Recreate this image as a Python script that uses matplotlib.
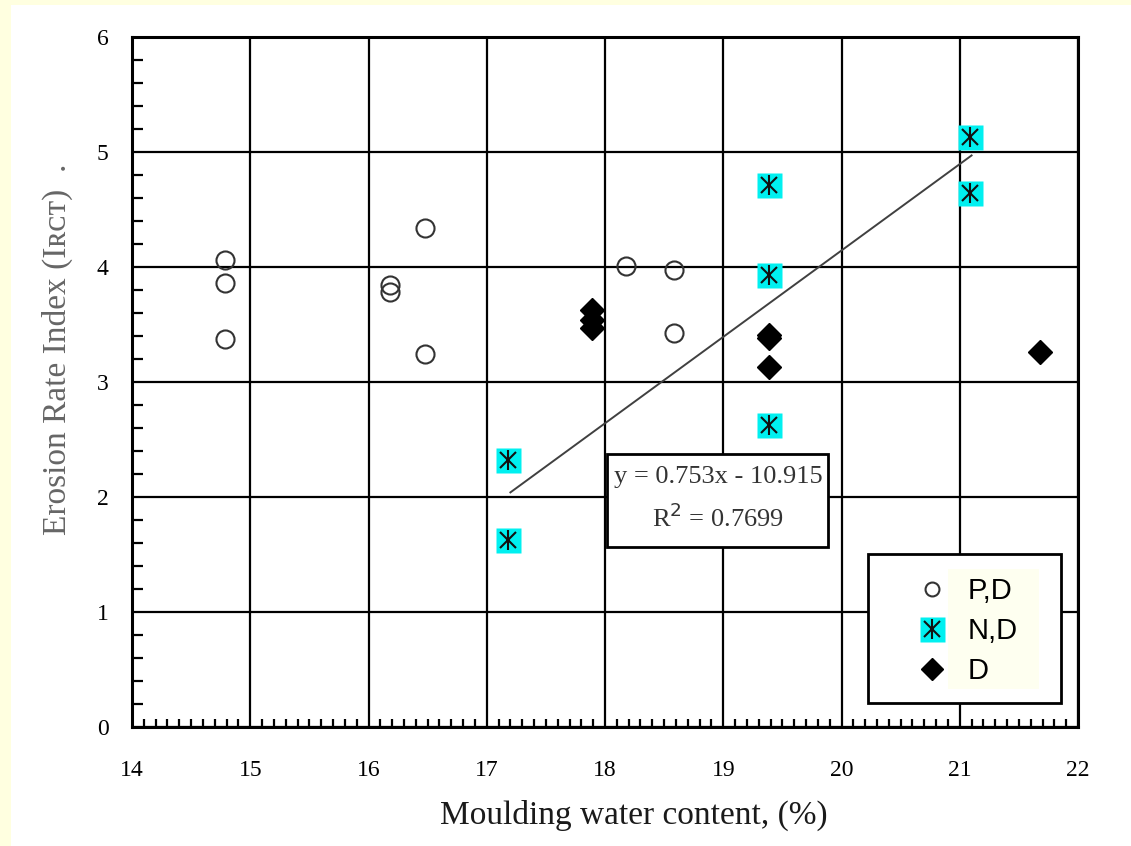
import matplotlib
matplotlib.use("Agg")
import matplotlib.pyplot as plt
from matplotlib.patches import Rectangle
from matplotlib.lines import Line2D
from matplotlib.legend_handler import HandlerTuple

# ---------------- data ----------------
pd_x = [14.79, 14.79, 14.79, 16.18, 16.18, 16.48, 16.48, 18.18, 18.58, 18.58]
pd_y = [4.06, 3.86, 3.37, 3.84, 3.78, 4.34, 3.24, 4.01, 3.97, 3.43]

nd_x = [17.18, 17.18, 19.39, 19.39, 19.39, 21.09, 21.09]
nd_y = [2.32, 1.63, 4.71, 3.93, 2.63, 5.13, 4.64]

d_x = [17.89, 17.89, 17.89, 19.39, 19.39, 19.39, 21.68]
d_y = [3.63, 3.54, 3.47, 3.41, 3.38, 3.13, 3.26]

trend_x = [17.2, 21.1]
trend_y = [2.04, 4.97]

x_ticks = [14, 15, 16, 17, 18, 19, 20, 21, 22]
y_ticks = [0, 1, 2, 3, 4, 5, 6]
legend_labels = ["P,D", "N,D", "D"]
eq_text = "y = 0.753x - 10.915"
r2_text = "R$^2$ = 0.7699"
x_label = "Moulding water content, (%)"
y_label = "Erosion Rate Index (I\u0280\u1d04\u1d1b)  ."

# ---------------- figure ----------------
W, H = 1131, 846
fig = plt.figure(figsize=(W / 100, H / 100), dpi=100)
fig.patch.set_facecolor("#FFFFE0")
fig.add_artist(Rectangle((11 / W, 0), 1, (H - 5) / H, transform=fig.transFigure,
                         facecolor="white", edgecolor="none", zorder=-10))

L, R, T, B = 132, 1078, 37, 727
ax = fig.add_axes([L / W, 1 - B / H, (R - L) / W, (B - T) / H])
ax.set_zorder(1)
ax.set_xlim(14, 22)
ax.set_ylim(0, 6)
ax.set_facecolor("white")

serif = ["Liberation Serif", "DejaVu Serif"]

ax.set_xticks(x_ticks)
ax.set_yticks(y_ticks)
ax.set_xticklabels([str(v) for v in x_ticks], fontfamily=serif, fontsize=17, color="#000000")
ax.set_yticklabels([str(v) for v in y_ticks], fontfamily=serif, fontsize=17, color="#000000")
ax.set_xticks([v / 10 for v in range(140, 221)], minor=True)
ax.set_yticks([v / 5 for v in range(0, 31)], minor=True)
ax.tick_params(axis="x", which="major", direction="in", length=0, pad=24)
ax.tick_params(axis="y", which="major", direction="in", length=0, pad=17)
ax.tick_params(axis="x", which="minor", direction="in", length=6, width=1.6, color="black")
ax.tick_params(axis="y", which="minor", direction="in", length=8, width=1.6, color="black")
ax.tick_params(top=False, right=False, which="both")

ax.grid(True, which="major", color="black", linewidth=1.6)
ax.set_axisbelow(True)
for s in ax.spines.values():
    s.set_linewidth(2.2)
    s.set_color("black")

# data marks
ax.plot(pd_x, pd_y, linestyle="none", marker="o", ms=13, mfc="none", mec="#333333", mew=1.5, zorder=3)
ax.plot(nd_x, nd_y, linestyle="none", marker="s", ms=18, mfc="#00F0F0", mec="none", zorder=3)
ax.plot(nd_x, nd_y, linestyle="none", marker="x", ms=12, mec="#111111", mew=1.5, zorder=4)
ax.plot(nd_x, nd_y, linestyle="none", marker="|", ms=15, mec="#111111", mew=1.5, zorder=4)
ax.plot(d_x, d_y, linestyle="none", marker="D", ms=12, mfc="black", mec="black", zorder=3)
ax.plot(trend_x, trend_y, color="#404040", linewidth=1.4, zorder=3)

# equation box
def axfrac(px, py):
    return (px - L) / (R - L), (B - py) / (B - T)

bx0, by0 = axfrac(607, 547)
bx1, by1 = axfrac(828, 454)
ax.add_patch(Rectangle((bx0, by0), bx1 - bx0, by1 - by0, transform=ax.transAxes,
                       facecolor="white", edgecolor="black", linewidth=2, zorder=5))
tx, ty1 = axfrac(718, 477)
_, ty2 = axfrac(718, 518)
ax.text(tx, ty1, eq_text, transform=ax.transAxes, ha="center", va="center",
        fontfamily=serif, fontsize=19, color="#333333", zorder=6)
ax.text(tx, ty2, r2_text, transform=ax.transAxes, ha="center", va="center",
        fontfamily=serif, fontsize=19, color="#333333", zorder=6)

# legend frame + yellow label box
lx0, ly0 = axfrac(868, 703)
lx1, ly1 = axfrac(1061, 554)
ax.add_patch(Rectangle((lx0, ly0), lx1 - lx0, ly1 - ly0, transform=ax.transAxes,
                       facecolor="white", edgecolor="black", linewidth=2, zorder=5))
yx0, yy0 = axfrac(948, 689)
yx1, yy1 = axfrac(1039, 569)
ax.add_patch(Rectangle((yx0, yy0), yx1 - yx0, yy1 - yy0, transform=ax.transAxes,
                       facecolor="#FEFFF0", edgecolor="none", zorder=5.5))

h_pd = Line2D([], [], linestyle="none", marker="o", ms=10, mfc="none", mec="#333333", mew=1.5)
h_nd = (Line2D([], [], linestyle="none", marker="s", ms=18, mfc="#00F0F0", mec="none"),
        Line2D([], [], linestyle="none", marker="x", ms=12, mec="#111111", mew=1.5),
        Line2D([], [], linestyle="none", marker="|", ms=15, mec="#111111", mew=1.5))
h_d = Line2D([], [], linestyle="none", marker="D", ms=11, mfc="black", mec="black")
lg_x, lg_y = axfrac(917, 631)
leg = ax.legend([h_pd, h_nd, h_d], legend_labels, loc="center left",
                bbox_to_anchor=(lg_x, lg_y), frameon=False,
                handler_map={tuple: HandlerTuple(ndivide=1, pad=0)},
                handlelength=1.0, handletextpad=0.75, labelspacing=0.42,
                borderaxespad=0, borderpad=0,
                prop={"family": "Liberation Sans", "size": 21})
leg.set_zorder(6)

# axis labels
fig.text(634 / W, 1 - 815 / H, x_label, ha="center", va="center",
         fontfamily=serif, fontsize=24, color="#1a1a1a")
fig.text(57 / W, 1 - 349 / H, y_label, ha="center", va="center", rotation=90,
         fontfamily=serif, fontsize=24, color="#666666")

fig.savefig("out.png", dpi=100, facecolor=fig.get_facecolor())
